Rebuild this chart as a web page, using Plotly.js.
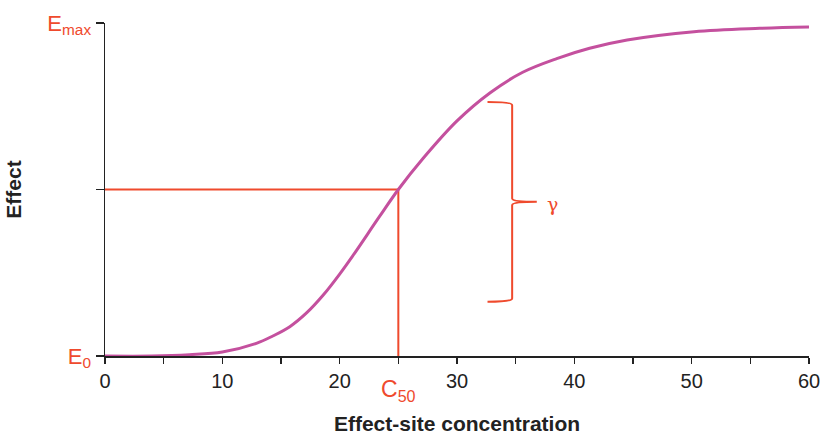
<!DOCTYPE html>
<html>
<head>
<meta charset="utf-8">
<script src="https://cdn.plot.ly/plotly-3.0.1.min.js"></script>
<style>html,body{margin:0;padding:0;background:#fff}#chart{width:822px;height:435px}</style>
</head>
<body>
<div id="chart"></div>
<script>
// Effect-site concentration vs effect
const conc   = [0, 4, 7.2, 10, 12.9, 14.3, 15.75, 17.2, 18.6, 20, 21.1, 23.4, 25, 27.1, 30, 32.8, 35.6, 38.5, 41.3, 44.5, 50.2, 55.8, 60];
const effect = [0, 0.0, 0.004, 0.012, 0.038, 0.06, 0.088, 0.13, 0.183, 0.246, 0.30, 0.419, 0.5, 0.593, 0.706, 0.79, 0.852, 0.893, 0.924, 0.949, 0.974, 0.984, 0.988];

const c50 = 25;
const e50 = 0.5;

const xTickVals = [0, 5, 10, 15, 20, 25, 30, 35, 40, 45, 50, 55, 60];
const xTickText = ['0', '', '10', '', '20', '', '30', '', '40', '', '50', '', '60'];
const yTickVals = [0, 0.5, 1];
const yTickText = ['E<sub>0</sub>', '', 'E<sub>max</sub>'];

// brace annotation for gamma: [left x, spine x, tip x], [top y, middle y, bottom y]
const braceX = [32.6, 34.7, 36.8];
const braceY = [0.763, 0.463, 0.163];

const RED = '#ef4a2d';
const CURVE = '#c4509e';
const FONT = 'Liberation Sans, Arial, Helvetica, sans-serif';

const traces = [
  {x: [0, c50, c50], y: [e50, e50, 0], mode: 'lines', line: {color: RED, width: 2}, hoverinfo: 'skip'},
  {x: conc, y: effect, mode: 'lines', line: {color: CURVE, width: 3, shape: 'spline', smoothing: 1}, hoverinfo: 'skip'}
];

const [bl, bs, bt] = braceX;
const [yt, ym, yb] = braceY;
const bracePath =
  `M ${bl} ${yt} Q ${bs} ${yt} ${bs} ${yt - 0.01} L ${bs} ${ym + 0.01} Q ${bs} ${ym} ${bt} ${ym} ` +
  `M ${bt} ${ym} Q ${bs} ${ym} ${bs} ${ym - 0.01} L ${bs} ${yb + 0.01} Q ${bs} ${yb} ${bl} ${yb}`;

const layout = {
  width: 822, height: 435,
  margin: {l: 105, r: 13, t: 23, b: 79},
  paper_bgcolor: '#fff', plot_bgcolor: '#fff',
  showlegend: false,
  font: {family: FONT, color: '#222'},
  xaxis: {
    range: [0, 60], tickmode: 'array', tickvals: xTickVals, ticktext: xTickText,
    ticks: 'outside', ticklen: 6, tickwidth: 1.3, tickcolor: '#222',
    showline: true, linecolor: '#222', linewidth: 1.5, showgrid: false, zeroline: false,
    tickfont: {size: 20, color: '#222', family: FONT},
    title: {text: '<b>Effect-site concentration</b>', font: {size: 21, color: '#222', family: FONT}, standoff: 27}
  },
  yaxis: {
    range: [0, 1], tickmode: 'array', tickvals: yTickVals, ticktext: yTickText,
    ticks: 'outside', ticklen: 8, tickwidth: 1.3, tickcolor: '#222',
    showline: true, linecolor: '#222', linewidth: 1.5, showgrid: false, zeroline: false,
    tickfont: {size: 22, color: RED, family: FONT},
    title: {text: '<b>Effect</b>', font: {size: 21, color: '#222', family: FONT}, standoff: 20}
  },
  shapes: [
    {type: 'path', path: bracePath, line: {color: RED, width: 2}, xref: 'x', yref: 'y'}
  ],
  annotations: [
    {x: c50, y: 0, xref: 'x', yref: 'y', text: 'C<sub>50</sub>', showarrow: false, yshift: -34,
     font: {size: 23, color: RED, family: FONT}},
    {x: braceX[2], y: braceY[1], xref: 'x', yref: 'y', text: 'γ', showarrow: false, xanchor: 'left', xshift: 8, yshift: -2,
     font: {size: 19, color: RED, family: 'DejaVu Serif, serif'}}
  ]
};

Plotly.newPlot('chart', traces, layout, {displayModeBar: false, staticPlot: true});
</script>
</body>
</html>
